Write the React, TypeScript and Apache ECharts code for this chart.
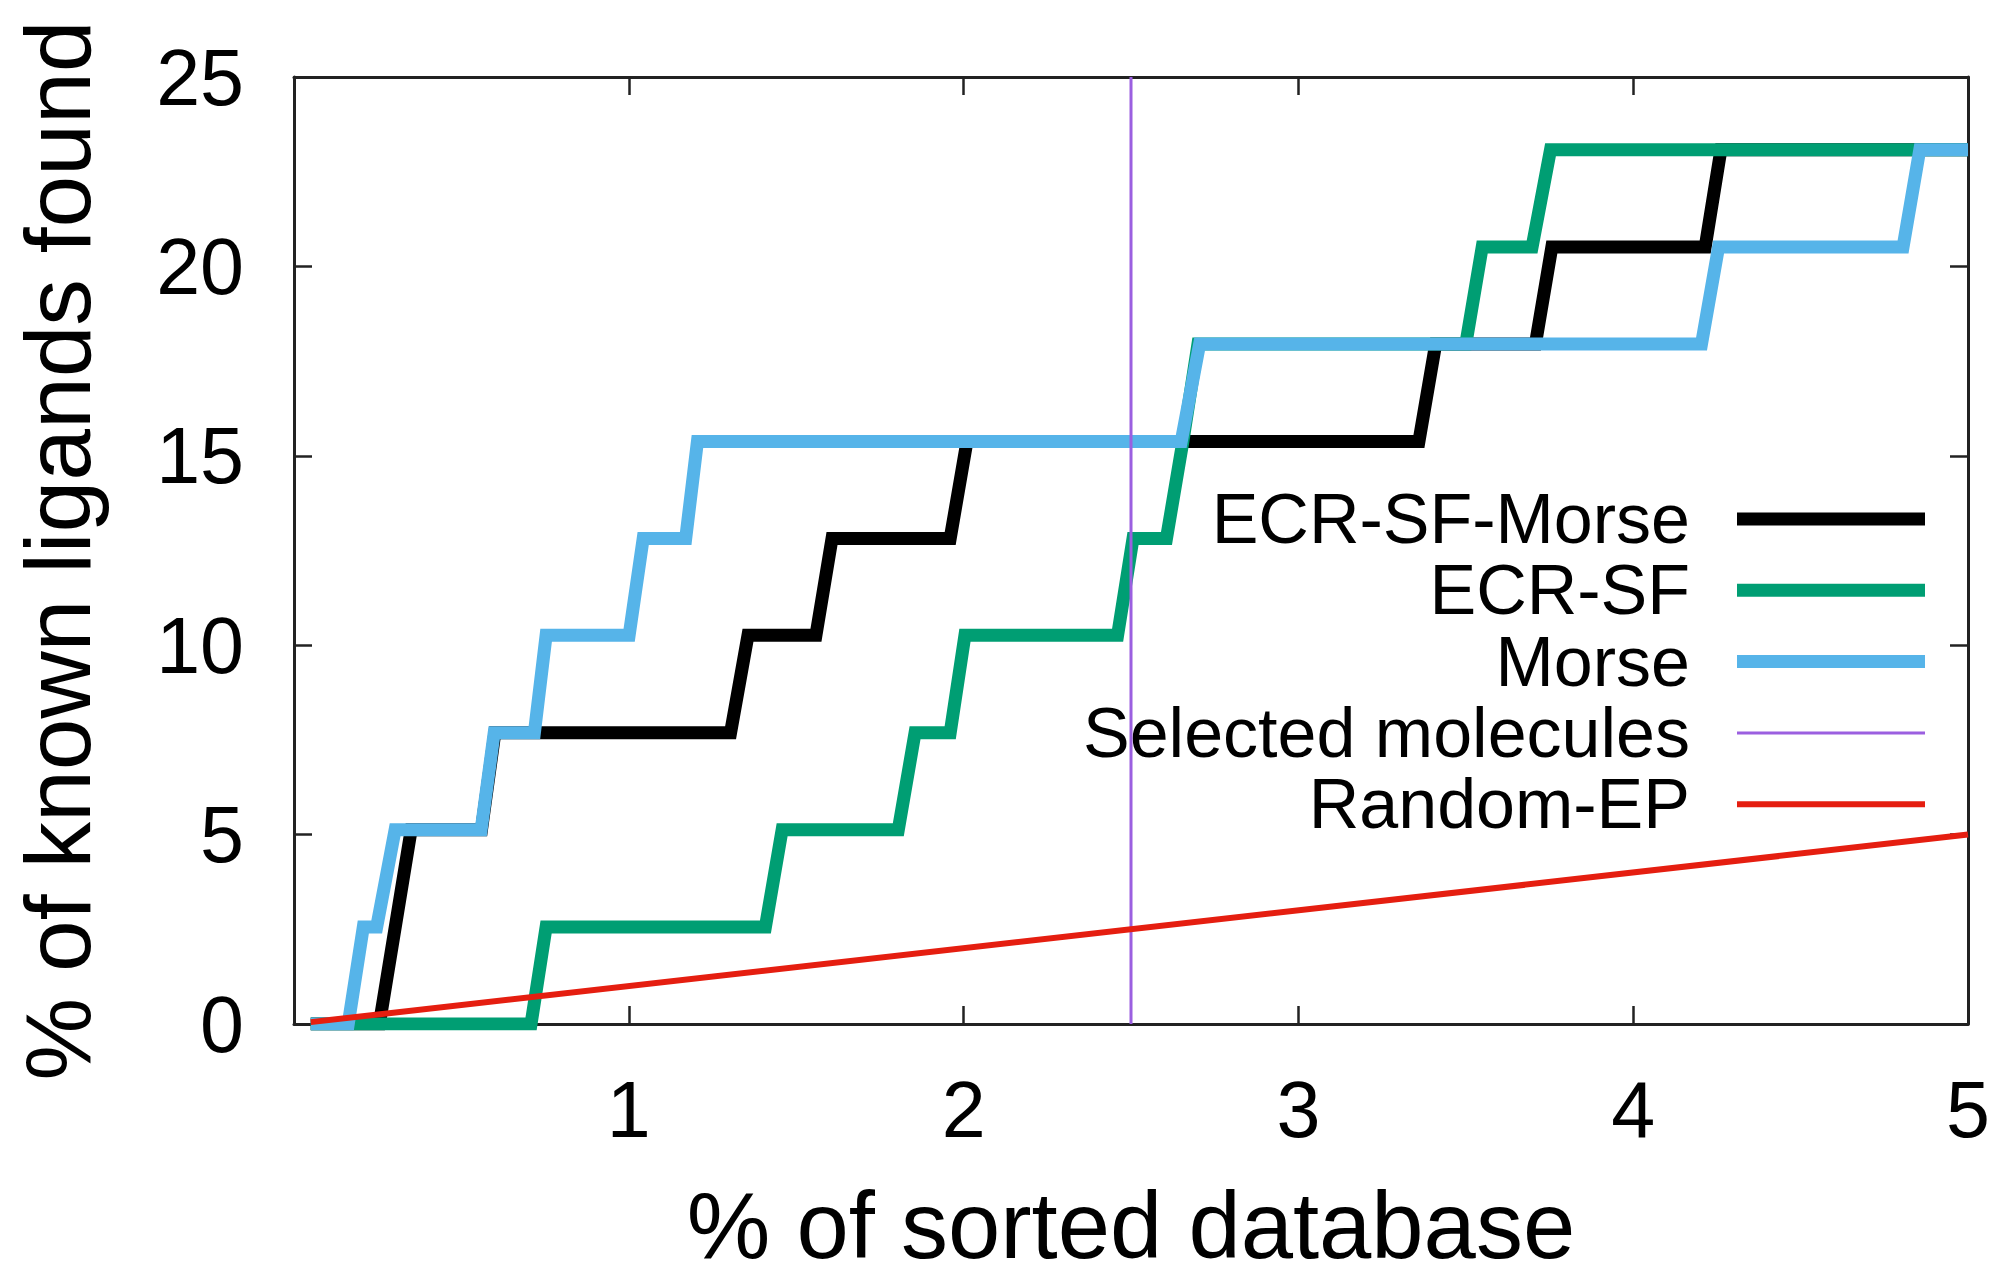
import React, { useEffect, useRef } from "react";
import * as echarts from "echarts";

// % of sorted database (x) vs % of known ligands found (y)
const ecrSfMorse: [number, number][] = [
  [0.05, 0], [0.255, 0], [0.35, 5.13], [0.56, 5.13], [0.6, 7.69], [1.304, 7.69],
  [1.356, 10.26], [1.559, 10.26], [1.607, 12.82], [1.96, 12.82], [2.01, 15.38],
  [3.36, 15.38], [3.41, 17.95], [3.708, 17.95], [3.757, 20.51], [4.215, 20.51],
  [4.262, 23.08], [5, 23.08],
];
const ecrSf: [number, number][] = [
  [0.05, 0], [0.708, 0], [0.753, 2.56], [1.408, 2.56], [1.458, 5.13], [1.805, 5.13],
  [1.855, 7.69], [1.96, 7.69], [2.004, 10.26], [2.46, 10.26], [2.506, 12.82],
  [2.606, 12.82], [2.655, 15.38], [2.7, 17.95], [3.5, 17.95], [3.549, 20.51],
  [3.698, 20.51], [3.753, 23.08], [5, 23.08],
];
const morse: [number, number][] = [
  [0.05, 0], [0.162, 0], [0.207, 2.56], [0.247, 2.56], [0.302, 5.13], [0.559, 5.13],
  [0.598, 7.69], [0.718, 7.69], [0.753, 10.26], [1.001, 10.26], [1.043, 12.82],
  [1.17, 12.82], [1.205, 15.38], [2.65, 15.38], [2.705, 17.95], [4.204, 17.95],
  [4.255, 20.51], [4.806, 20.51], [4.856, 23.08], [5, 23.08],
];
const selectedMolecules: [number, number][] = [[2.5, 0], [2.5, 25]];
const randomEp: [number, number][] = [[0.05, 0.05], [5, 5]];

const seriesNames = ["ECR-SF-Morse", "ECR-SF", "Morse", "Selected molecules", "Random-EP"];
const seriesColors = ["#000000", "#009e73", "#56b4e9", "#9b5fe0", "#e51e10"];
const seriesWidths = [13, 13, 13, 3, 6];
const seriesData = [ecrSfMorse, ecrSf, morse, selectedMolecules, randomEp];

const xTitle = "% of sorted database";
const yTitle = "% of known ligands found";

const FONT = '"Liberation Sans", Arial, Helvetica, sans-serif';

export default function App() {
  const ref = useRef<HTMLDivElement>(null);
  useEffect(() => {
    document.body.style.margin = "0";
    if (!ref.current) return;
    const chart = echarts.init(ref.current, null, { renderer: "svg" });
    const axisLine = { show: true, onZero: false, lineStyle: { color: "#222", width: 3 } };
    const tick = { show: true, inside: true, length: 18, lineStyle: { color: "#222", width: 2.5 } };
    const legendTop = 519;
    const legendStep = 71.3;
    const legendGraphics: any[] = [];
    seriesNames.forEach((n, i) => {
      const y = legendTop + i * legendStep;
      legendGraphics.push({
        type: "text",
        x: 1690,
        y,
        style: {
          text: n,
          textAlign: "right",
          textVerticalAlign: "middle",
          fontSize: 70,
          fontFamily: FONT,
          fill: "#000",
        },
      });
      legendGraphics.push({
        type: "line",
        shape: { x1: 1737, y1: y, x2: 1925, y2: y },
        style: { stroke: seriesColors[i], lineWidth: seriesWidths[i] },
      });
    });
    chart.setOption({
      animation: false,
      backgroundColor: "#fff",
      grid: { left: 294, right: 27, top: 77, bottom: 249, containLabel: false },
      xAxis: [
        {
          type: "value",
          min: 0,
          max: 5,
          interval: 1,
          position: "bottom",
          axisLine,
          axisTick: tick,
          splitLine: { show: false },
          axisLabel: {
            fontSize: 79,
            fontFamily: FONT,
            color: "#000",
            margin: 46,
            formatter: (v: number) => (v === 0 ? "" : String(v)),
          },
          name: xTitle,
          nameLocation: "middle",
          nameGap: 154,
          nameTextStyle: { fontSize: 94, fontFamily: FONT, color: "#000" },
        },
        {
          type: "value",
          min: 0,
          max: 5,
          interval: 1,
          position: "top",
          axisLine,
          axisTick: tick,
          splitLine: { show: false },
          axisLabel: { show: false },
        },
      ],
      yAxis: [
        {
          type: "value",
          min: 0,
          max: 25,
          interval: 5,
          position: "left",
          axisLine,
          axisTick: tick,
          splitLine: { show: false },
          axisLabel: { fontSize: 79, fontFamily: FONT, color: "#000", margin: 50 },
          name: yTitle,
          nameLocation: "middle",
          nameGap: 190,
          nameTextStyle: { fontSize: 93, fontFamily: FONT, color: "#000" },
        },
        {
          type: "value",
          min: 0,
          max: 25,
          interval: 5,
          position: "right",
          axisLine,
          axisTick: tick,
          splitLine: { show: false },
          axisLabel: { show: false },
        },
      ],
      series: seriesData.map((d, i) => ({
        name: seriesNames[i],
        type: "line",
        data: d,
        xAxisIndex: 0,
        yAxisIndex: 0,
        showSymbol: false,
        symbol: "none",
        silent: true,
        z: 2 + i,
        lineStyle: { color: seriesColors[i], width: seriesWidths[i], join: "miter", cap: "butt" },
        emphasis: { disabled: true },
      })),
      graphic: legendGraphics,
    });
    return () => chart.dispose();
  }, []);
  return <div ref={ref} style={{ width: 1995, height: 1277 }} />;
}
